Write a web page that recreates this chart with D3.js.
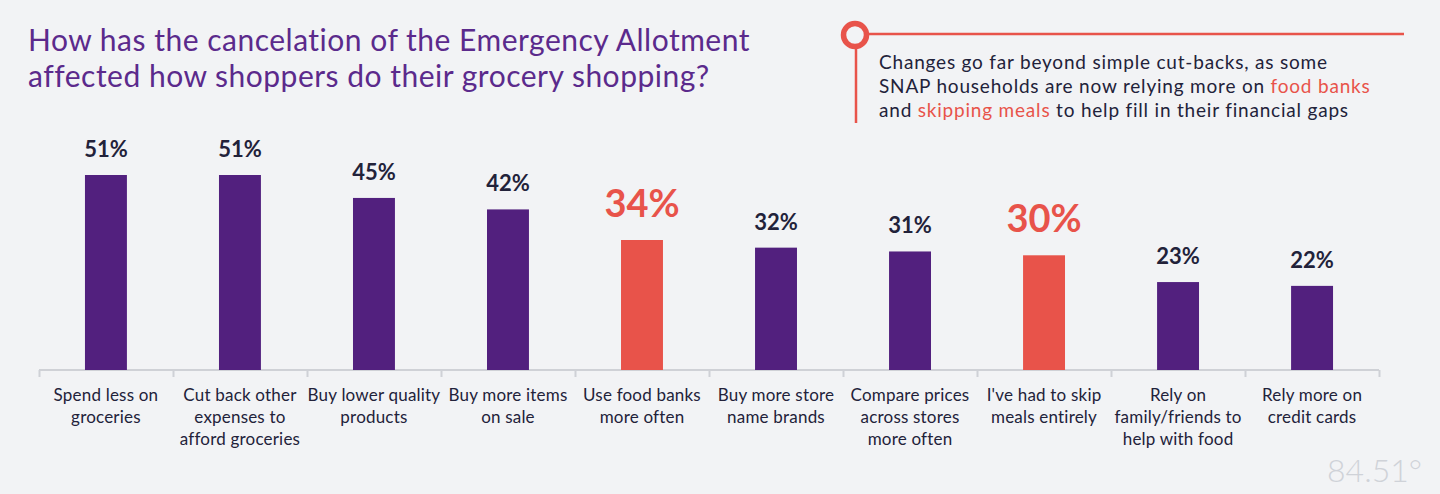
<!DOCTYPE html>
<html><head><meta charset="utf-8">
<script src="https://cdn.jsdelivr.net/npm/d3@7"></script>
<style>
html,body{margin:0;padding:0;background:#f2f3f5;}
svg{display:block;font-family:Lato,"Open Sans",sans-serif;}
</style></head>
<body>
<svg id="chart" width="1440" height="494"></svg>
<script>
const categories = [
  ["Spend less on","groceries"],
  ["Cut back other","expenses to","afford groceries"],
  ["Buy lower quality","products"],
  ["Buy more items","on sale"],
  ["Use food banks","more often"],
  ["Buy more store","name brands"],
  ["Compare prices","across stores","more often"],
  ["I've had to skip","meals entirely"],
  ["Rely on","family/friends to","help with food"],
  ["Rely more on","credit cards"]
];
const values = [51, 51, 45, 42, 34, 32, 31, 30, 23, 22];
const highlighted = [false, false, false, false, true, false, false, true, false, false];
const titleLines = ["How has the cancelation of the Emergency Allotment","affected how shoppers do their grocery shopping?"];
const noteLines = [
  [["Changes go far beyond simple cut-backs, as some", false]],
  [["SNAP households are now relying more on ", false], ["food banks", true]],
  [["and ", false], ["skipping meals", true], [" to help fill in their financial gaps", false]]
];

const PURPLE = "#52207e", RED = "#e8534a", DARK = "#22223a", TITLE = "#5b2a8c";
const svg = d3.select("#chart");
svg.append("rect").attr("width",1440).attr("height",494).attr("fill","#f2f3f5");

const x = d3.scaleBand().domain(d3.range(values.length)).range([39, 1379]).paddingInner(0.687).paddingOuter(0.343);
const y = d3.scaleLinear().domain([0, 51]).range([370, 175]);

// title
svg.append("g").selectAll("text").data(titleLines).join("text")
  .attr("x", 28).attr("y", (d,i) => 51 + i*36)
  .attr("fill", TITLE).attr("font-size", 30).attr("letter-spacing", 0.5).text(d => d);

// annotation
const ann = svg.append("g");
ann.append("line").attr("x1", 867).attr("x2", 1404).attr("y1", 34).attr("y2", 34).attr("stroke", RED).attr("stroke-width", 2.5);
ann.append("line").attr("x1", 856).attr("x2", 856).attr("y1", 46).attr("y2", 123).attr("stroke", RED).attr("stroke-width", 2.5);
ann.append("circle").attr("cx", 855).attr("cy", 35).attr("r", 11.5).attr("fill", "none").attr("stroke", RED).attr("stroke-width", 5.5);
const nt = ann.append("g").selectAll("text").data(noteLines).join("text")
  .attr("x", 879).attr("y", (d,i) => 69 + i*24).attr("font-size", 19).attr("letter-spacing", 0.8).attr("fill", DARK);
nt.selectAll("tspan").data(d => d).join("tspan").attr("fill", d => d[1] ? RED : DARK).text(d => d[0]);

// axis
const axis = d3.axisBottom(d3.scaleLinear().domain([0, values.length]).range([39, 1379]))
  .ticks(values.length).tickSize(7).tickFormat("");
const ag = svg.append("g").attr("transform", "translate(0,370)").call(axis);
ag.selectAll("path,line").attr("stroke", "#cfd1d6").attr("stroke-width", 2);
ag.select(".domain").attr("d", "M39,0H1379");

// bars
svg.append("g").selectAll("rect").data(values).join("rect")
  .attr("x", (d,i) => x(i)).attr("width", x.bandwidth())
  .attr("y", d => y(d)).attr("height", d => y(0) - y(d))
  .attr("fill", (d,i) => highlighted[i] ? RED : PURPLE);

// value labels
svg.append("g").selectAll("text").data(values).join("text")
  .attr("x", (d,i) => x(i) + x.bandwidth()/2)
  .attr("y", (d,i) => y(d) - (highlighted[i] ? 23 : 18))
  .attr("text-anchor", "middle")
  .attr("font-weight", 700)
  .attr("font-size", (d,i) => highlighted[i] ? 38 : 22)
  .attr("fill", (d,i) => highlighted[i] ? RED : DARK)
  .text(d => d + "%");

// category labels
const cl = svg.append("g").selectAll("text").data(categories).join("text")
  .attr("text-anchor", "middle").attr("font-size", 17).attr("letter-spacing", 0.2).attr("fill", DARK);
cl.selectAll("tspan").data((d,i) => d.map(s => [s, i])).join("tspan")
  .attr("x", d => x(d[1]) + x.bandwidth()/2)
  .attr("y", (d,j) => 401 + j*22)
  .text(d => d[0]);

// logo
svg.append("text").attr("x", 1422).attr("y", 482).attr("text-anchor", "end")
  .attr("font-size", 32).attr("fill", "#cfd2d8").attr("font-weight", 300).text("84.51°");
</script>
</body></html>
